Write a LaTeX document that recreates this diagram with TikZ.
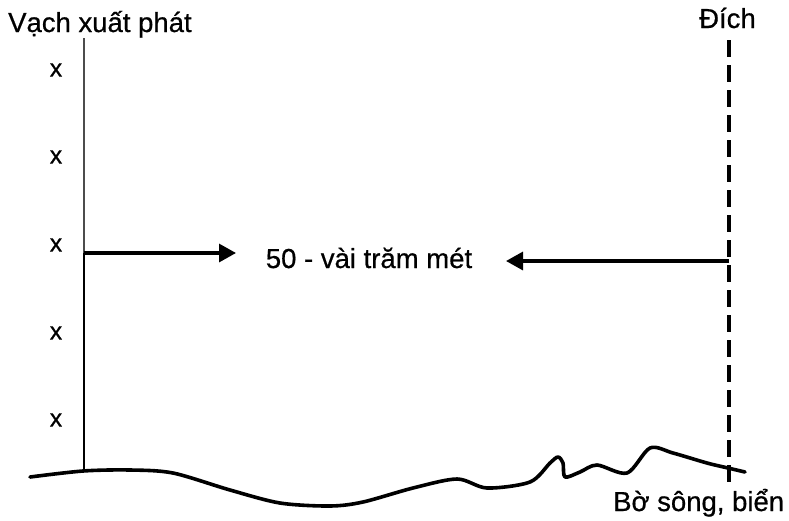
\documentclass[tikz,border=0pt]{standalone}
\usepackage{fontspec}
\setmainfont{Liberation Sans}[FakeBold=0.6]
\usetikzlibrary{arrows.meta}
\begin{document}
\begin{tikzpicture}[x=1pt,y=-1pt,
  lbl/.style={inner sep=0pt,font=\fontsize{27.5}{32}\selectfont},
  xmark/.style={inner sep=0pt,font=\fontsize{25}{30}\selectfont},
  bigarrow/.style={line width=3.2pt,-{Triangle[length=17pt,width=18pt]}},
  finish/.style={line width=3.2pt,dash pattern=on 17pt off 8pt},
  ground/.style={line width=3.6pt,line cap=round,line join=round}]
\useasboundingbox (0,0) rectangle (789,520);
% labels
\node[lbl,anchor=base west] (start) at (8,32) {Vạch xuất phát};
\node[lbl,anchor=base west] (goal) at (699,28) {Đích};
\node[lbl,anchor=base] (dist) at (369,268) {50 - vài trăm mét};
\node[lbl,anchor=base west] (shore) at (613,511) {Bờ sông, biển};
% x marks
\foreach \i/\y in {1/70,2/157,3/245,4/333,5/420}
  \node[xmark] (x\i) at (56,\y) {x};
% start line
\coordinate (s0) at (84,38);
\coordinate (sa) at (84,253);
\coordinate (s1) at (84,471);
\draw[line width=1.1pt,black!70] (s0) -- (sa);
\draw[line width=1.8pt] (sa) -- (s1);
% finish line
\coordinate (f0) at (729,40);
\coordinate (fa) at (729,261);
\coordinate (f1) at (729,484);
\draw[finish] (f0) -- (f1);
% arrows
\coordinate (ta) at (236,253);
\coordinate (tb) at (506,261);
\draw[bigarrow] (sa) -- (ta);
\draw[bigarrow] (fa) -- (tb);
% ground
\draw[ground] plot[smooth,tension=0.5] coordinates {
 (30,477) (83,471) (130,470) (173,473) (230,490) (280,503) (330,506)
 (363,502) (413,488) (457,479) (487,488) (530,482) (550,463) (558,457)
 (563,463) (565,477) (580,472) (597,465) (627,473) (650,448) (673,453)
 (707,463) (728,468) (745,472)};
\end{tikzpicture}
\end{document}
